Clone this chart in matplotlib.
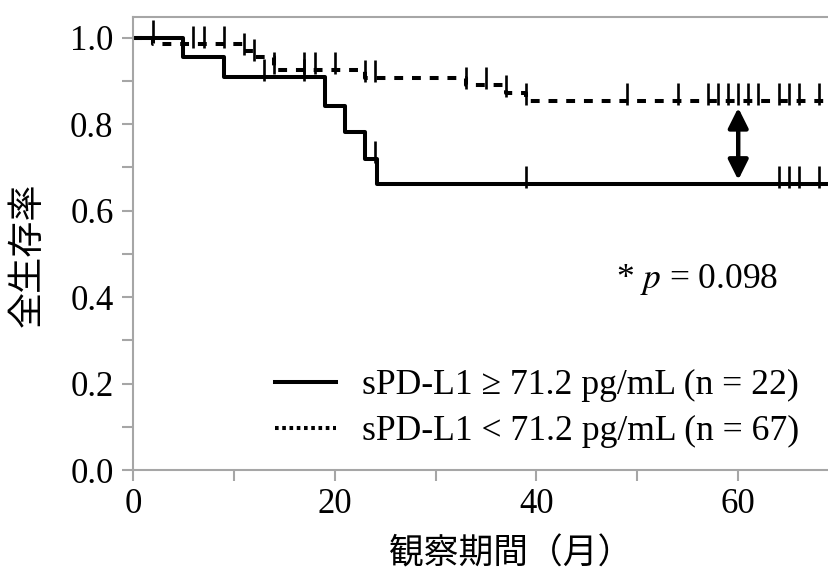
#!/usr/bin/env python
# Kaplan-Meier style survival curves for two sPD-L1 groups

import numpy as np
from matplotlib import pyplot as plt
from matplotlib.path import Path
from matplotlib.lines import Line2D
from matplotlib.ticker import MultipleLocator

plt.rcParams['font.family'] = ['Liberation Serif', 'DejaVu Serif', 'Noto Sans CJK JP']
plt.rcParams['mathtext.fontset'] = 'stix'

# high group (solid): step times and survival after each step
high_t = [0, 5, 9, 19, 21, 23, 24.2, 69]
high_s = [1.0, 0.955, 0.909, 0.841, 0.781, 0.719, 0.662, 0.662]
high_cens = [2, 13, 17, 24, 39, 64, 65, 66, 68]

# low group (dashed)
low_t = [0, 2, 11, 12, 14, 23, 33, 37, 39, 69]
low_s = [1.0, 0.985, 0.970, 0.955, 0.925, 0.907, 0.891, 0.872, 0.853, 0.853]
low_cens = [6, 7, 9, 11, 12, 14, 17, 18, 20, 23, 24, 33, 35, 37, 39,
            49, 54, 57, 58, 59, 60, 61, 62, 64, 65, 66, 68]

labels = ['sPD-L1 \u2265 71.2 pg/mL (n = 22)', 'sPD-L1 < 71.2 pg/mL (n = 67)']
p_text = r'* $p$ = 0.098'

def surv_at(times, surv, x):
    idx = np.searchsorted(times, x, side='right') - 1
    return np.array(surv)[idx]

# censor tick, mostly above the line
tick = Path([(0, -0.2), (0, 1.0)], [Path.MOVETO, Path.LINETO])

fig = plt.figure(figsize=(8.29, 5.75), dpi=100)
ax = fig.add_axes([0.1604, 0.1826, 0.8396, 0.7878])

ax.step(high_t, high_s, where='post', color='black', lw=2.9)
ax.step(low_t, low_s, where='post', color='black', lw=2.9, dashes=(2.2, 2.2))

ax.plot(high_cens, surv_at(high_t, high_s, high_cens), ls='none',
        marker=tick, ms=26, mew=1.9, color='black')
ax.plot(low_cens, surv_at(low_t, low_s, low_cens), ls='none',
        marker=tick, ms=26, mew=1.9, color='black')

# gap arrow
ax.annotate('', xy=(60, 0.671), xytext=(60, 0.838),
            arrowprops=dict(arrowstyle='<|-|>', color='black', lw=3.2,
                            mutation_scale=30, shrinkA=0, shrinkB=0))

ax.text(47.9, 0.44, p_text, fontsize=25.5, va='center', ha='left')

handles = [Line2D([], [], color='black', lw=2.9),
           Line2D([], [], color='black', lw=2.9, dashes=(0.9, 0.9))]
ax.legend(handles, labels, loc='upper left', bbox_to_anchor=(0.204, 0.222),
          frameon=False, fontsize=25.7, handlelength=1.7, handletextpad=0.75,
          labelspacing=0.36, borderpad=0, borderaxespad=0)

ax.set_xlim(0, 69)
ax.set_ylim(0, 1.048)
ax.xaxis.set_major_locator(MultipleLocator(20))
ax.xaxis.set_minor_locator(MultipleLocator(10))
ax.yaxis.set_major_locator(MultipleLocator(0.2))
ax.yaxis.set_minor_locator(MultipleLocator(0.1))
ax.set_yticklabels(['%.1f' % v for v in ax.get_yticks()])

grey = '#a6a6a6'
for side in ['left', 'bottom', 'top']:
    ax.spines[side].set_color(grey)
    ax.spines[side].set_linewidth(1.5)
ax.spines['right'].set_visible(False)
ax.tick_params(which='both', direction='out', length=8, width=1.5,
               color=grey, labelsize=25)
ax.tick_params(axis='x', pad=5)
ax.tick_params(axis='y', pad=6)

ax.set_xlabel('観察期間（月）', fontsize=25, family=['Noto Sans CJK JP'])
ax.set_ylabel('全生存率', fontsize=26, family=['Noto Sans CJK JP'])
ax.xaxis.set_label_coords(0.542, -0.146)
ax.yaxis.set_label_coords(-0.126, 0.475)

fig.savefig('out.png', dpi=100)
